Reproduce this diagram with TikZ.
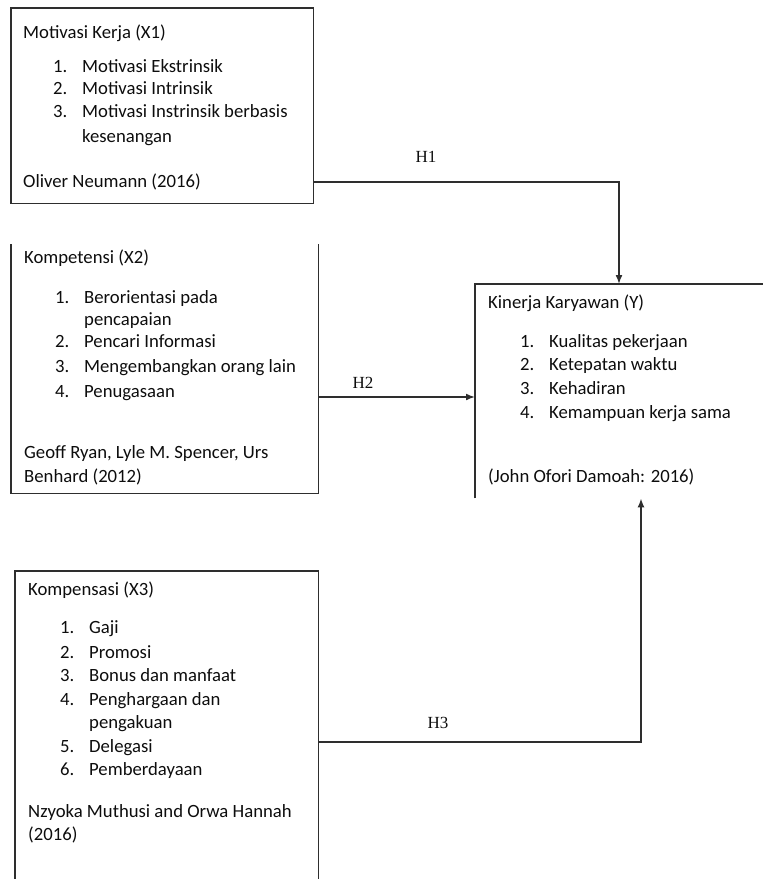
\documentclass[tikz,border=0pt]{standalone}
\usepackage{fontspec}
\setmainfont{Carlito}
\newfontfamily\hypfont{Liberation Serif}
\usepackage{tikz}
\usetikzlibrary{arrows.meta}

% number column of the lists
\newcommand{\itemno}[1]{\makebox[29pt][l]{#1}}

\begin{document}
\begin{tikzpicture}[x=1pt,y=-1pt]

    \tikzstyle{every node}=[font=\fontsize{18.7}{23.5}\selectfont, text=black!95, inner sep=0pt]
    \tikzstyle{area}=[rectangle, anchor=north west]
    \tikzstyle{txt}=[anchor=base west]
    \tikzstyle{edge}=[line width=1.6pt, black!82]
    \tikzstyle{arr}=[edge, -{Latex[length=9pt,width=7pt]}]
    \tikzstyle{hyp}=[font=\hypfont\fontsize{17}{20}\selectfont]

    \useasboundingbox (0,0) rectangle (763,879);

    % Define the areas of the four boxes
    \node[area, minimum width=302pt, minimum height=195pt] (x1) at (11,8) {};
    \node[area, minimum width=307pt, minimum height=249pt] (x2) at (11,244) {};
    \node[area, minimum width=303pt, minimum height=308pt] (x3) at (15,571) {};
    \node[area, minimum width=288pt, minimum height=214pt] (y) at (475,284) {};

    % Draw the box edges (some sides are open)
    \draw[edge] (x1.north west) rectangle (x1.south east);
    \draw[edge] (x2.north west) -- (x2.south west) -- (x2.south east) -- (x2.north east);
    \draw[edge] (x3.south west) -- (x3.north west) -- (x3.north east) -- (x3.south east);
    \draw[edge] (y.south west) -- (y.north west) -- (y.north east);

    % Motivasi Kerja (X1)
    \node[txt] (x1t) at (23,38) {Motivasi Kerja (X1)};
    \node[txt] (x1a) at (53,72) {\itemno{1.}Motivasi Ekstrinsik};
    \node[txt] (x1b) at (53,94) {\itemno{2.}Motivasi Intrinsik};
    \node[txt] (x1c) at (53,117) {\itemno{3.}Motivasi Instrinsik berbasis};
    \node[txt] (x1d) at (82,142) {kesenangan};
    \node[txt] (x1s) at (23,187) {Oliver Neumann (2016)};

    % Kompetensi (X2)
    \node[txt] (x2t) at (24,263) {Kompetensi (X2)};
    \node[txt] (x2a) at (55,303) {\itemno{1.}Berorientasi pada};
    \node[txt] (x2b) at (84,325) {pencapaian};
    \node[txt] (x2c) at (55,347) {\itemno{2.}Pencari Informasi};
    \node[txt] (x2d) at (55,372) {\itemno{3.}Mengembangkan orang lain};
    \node[txt] (x2e) at (55,397) {\itemno{4.}Penugasaan};
    \node[txt] (x2s) at (24,458) {Geoff Ryan, Lyle M. Spencer, Urs};
    \node[txt] (x2u) at (24,482) {Benhard (2012)};

    % Kinerja Karyawan (Y)
    \node[txt] (yt) at (488,308) {Kinerja Karyawan (Y)};
    \node[txt] (ya) at (520,347) {\itemno{1.}Kualitas pekerjaan};
    \node[txt] (yb) at (520,370) {\itemno{2.}Ketepatan waktu};
    \node[txt] (yc) at (520,394) {\itemno{3.}Kehadiran};
    \node[txt] (yd) at (520,418) {\itemno{4.}Kemampuan kerja sama};
    \node[txt] (ys) at (488,482) {(John Ofori Damoah: 2016)};

    % Kompensasi (X3)
    \node[txt] (x3t) at (28,595) {Kompensasi (X3)};
    \node[txt] (x3a) at (60,633) {\itemno{1.}Gaji};
    \node[txt] (x3b) at (60,658) {\itemno{2.}Promosi};
    \node[txt] (x3c) at (60,681) {\itemno{3.}Bonus dan manfaat};
    \node[txt] (x3d) at (60,705) {\itemno{4.}Penghargaan dan};
    \node[txt] (x3e) at (89,728) {pengakuan};
    \node[txt] (x3f) at (60,752) {\itemno{5.}Delegasi};
    \node[txt] (x3g) at (60,775) {\itemno{6.}Pemberdayaan};
    \node[txt] (x3s) at (28,817) {Nzyoka Muthusi and Orwa Hannah};
    \node[txt] (x3u) at (28,840) {(2016)};

    % Bend points of the hypothesis arrows
    \coordinate (h1) at (619,182);
    \coordinate (h2) at (0,397);
    \coordinate (h3) at (641,742);

    % Draw the hypothesis arrows
    \draw[arr] (x1.east |- h1) -| (y.north -| h1);
    \draw[arr] (x2.east |- h2) -- (y.west |- h2);
    \draw[arr] (x3.east |- h3) -| (y.south -| h3);

    % Add labels H1, H2, H3
    \node[hyp] (lh1) at (426,157) {H1};
    \node[hyp] (lh2) at (363,383) {H2};
    \node[hyp] (lh3) at (438,723) {H3};
\end{tikzpicture}
\end{document}
